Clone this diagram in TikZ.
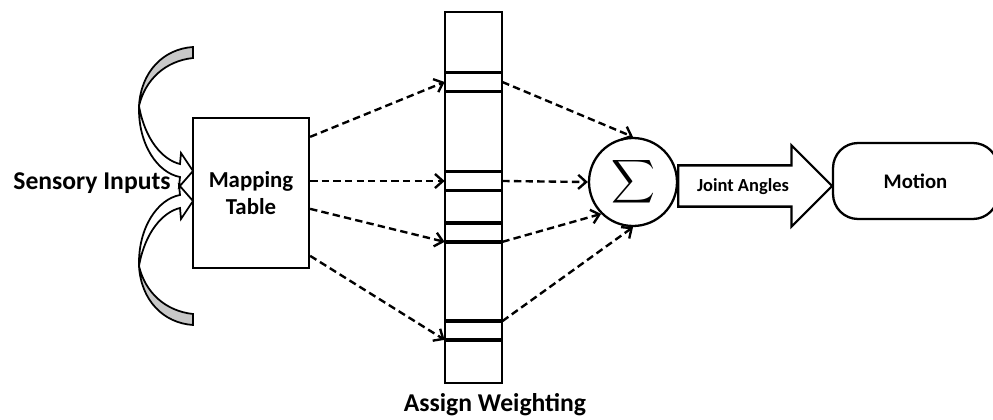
\documentclass[tikz,border=0pt]{standalone}
\usepackage{amsmath}
\usepackage{fontspec}
\setmainfont{Carlito}
\usetikzlibrary{arrows.meta,shapes.arrows}

\definecolor{foldgray}{RGB}{200,200,200}

\tikzset{
    box/.style={draw, line width=1.3pt, inner sep=0pt},
    flow/.style={line width=1.35pt, dash pattern=on 4.2pt off 2.4pt, -{Straight Barb[length=4.5pt,width=8pt]}},
    band/.style={minimum width=1.14cm, minimum height=0.36cm, inner sep=0pt},
    bigtxt/.style={font=\fontsize{14.6}{17}\selectfont\bfseries},
    midtxt/.style={font=\fontsize{13}{15.5}\selectfont\bfseries},
}

\begin{document}
\begin{tikzpicture}[x=0.02cm, y=-0.02cm]
    \clip (0,0) rectangle (993,419);
    % mapping table and weighting column
    \node[box, minimum width=2.32cm, minimum height=3cm, align=center, midtxt] (map) at (251,193) {Mapping\\Table};
    \node[box, minimum width=1.14cm, minimum height=7.42cm] (col) at (473.5,197.5) {};
    \node[band] (w1) at (473.5,82) {}; \node[band] (w2) at (473.5,181) {}; \node[band] (w3) at (473.5,232.5) {}; \node[band] (w4) at (473.5,330.5) {};
    \draw[line width=2pt] (w1.north west) -- (w1.north east) (w1.south west) -- (w1.south east);
    \draw[line width=2pt] (w2.north west) -- (w2.north east) (w2.south west) -- (w2.south east);
    \draw[line width=2pt] (w3.north west) -- (w3.north east) (w3.south west) -- (w3.south east);
    \draw[line width=2pt] (w4.north west) -- (w4.north east) (w4.south west) -- (w4.south east);
    \node[bigtxt] (assign) at (495,405) {Assign Weighting};
    % sum, output arrow and motion
    \node[draw, circle, line width=1.3pt, minimum size=1.76cm, inner sep=0pt, font=\fontsize{18}{18}\selectfont] (sum) at (633,182) {$\displaystyle\sum$};
    \node[draw, single arrow, line width=1.3pt, minimum height=3.08cm, inner xsep=0pt, inner ysep=0.39cm, single arrow head extend=0.4cm, anchor=tail] (ja) at (677,186) {};
    \node[font=\fontsize{10.5}{12}\selectfont\bfseries] (jatxt) at (743,187) {Joint Angles};
    \node[box, rounded corners=0.5cm, minimum width=3.3cm, minimum height=1.52cm, font=\fontsize{11.8}{14}\selectfont\bfseries] (motion) at (915.5,181) {Motion};
    % dashed links
    \draw[flow] ([yshift=-0.4cm]map.north east) -- (w1.west);
    \draw[flow] (map.east |- w2) -- (w2.west);
    \draw[flow] ([yshift=-1.84cm]map.north east) -- (w3.south west);
    \draw[flow] ([yshift=-2.78cm]map.north east) -- (w4.south west);
    \draw[flow] (w1.east) -- (sum.north);
    \draw[flow] (w2.east) -- (sum.west);
    \draw[flow] (w3.south east) -- (sum.south west);
    \draw[flow] (w4.north east) -- (sum.south);
    % sensory inputs with the two curved arrows
    \node[bigtxt] (sens) at (92,183) {Sensory Inputs};
    \filldraw[fill=foldgray, line width=1pt] (193,47) .. controls (163,49) and (141,72) .. (139,106) .. controls (145,80) and (165,61) .. (193,58) -- cycle;
    \filldraw[fill=white, line width=1pt] (139,106) .. controls (138,145) and (158,173) .. (180,177) -- (179,187) -- (193,171) -- (181,153) -- (180,164) .. controls (163,160) and (145,140) .. (139,106) -- cycle;
    \begin{scope}[shift={(0,372)}, yscale=-1]
        \filldraw[fill=foldgray, line width=1pt] (193,47) .. controls (163,49) and (141,72) .. (139,106) .. controls (145,80) and (165,61) .. (193,58) -- cycle;
        \filldraw[fill=white, line width=1pt] (139,106) .. controls (138,145) and (158,173) .. (180,177) -- (179,187) -- (193,171) -- (181,153) -- (180,164) .. controls (163,160) and (145,140) .. (139,106) -- cycle;
    \end{scope}
\end{tikzpicture}
\end{document}
